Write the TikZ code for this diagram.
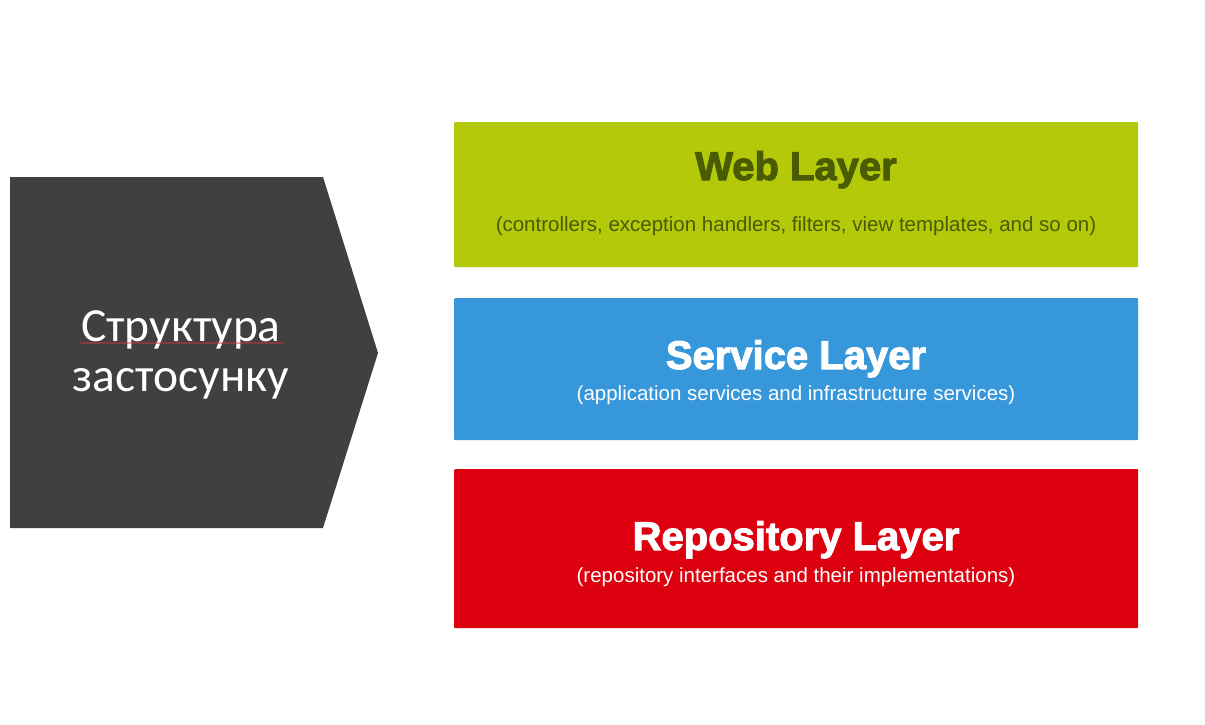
\documentclass[tikz,border=0pt]{standalone}
\usepackage{fontspec}
\setmainfont{Liberation Sans}
\newfontfamily\heavy{Liberation Sans}[BoldFeatures={FakeBold=2.6}]
\newfontfamily\slidefont{Carlito}
\usetikzlibrary{decorations.pathmorphing}

\definecolor{chevrongray}{HTML}{404040}
\definecolor{weblime}{HTML}{B3C90A}
\definecolor{webtext}{HTML}{4A5C02}
\definecolor{serviceblue}{HTML}{3797DB}
\definecolor{repored}{HTML}{DD000E}
\definecolor{spellred}{HTML}{D8343C}

\tikzset{
  layerbox/.style={draw=none, rounded corners=1pt, minimum width=684pt,
    inner sep=0pt, anchor=north west},
  layertitle/.style={anchor=base, inner sep=0pt,
    font=\heavy\bfseries\fontsize{40}{44}\selectfont},
  layersub/.style={anchor=base, inner sep=0pt,
    font=\fontsize{20.5}{24}\selectfont},
  chevrontext/.style={align=center, text=white, inner sep=0pt,
    font=\slidefont\fontsize{47.5}{50}\selectfont},
}

\begin{document}
\begin{tikzpicture}[x=1pt, y=-1pt]
  \useasboundingbox (0,0) rectangle (1205,724);
  \fill[white] (0,0) rectangle (1205,724);

  % left chevron
  \coordinate (cnw) at (10,177);
  \coordinate (cne) at (323,177);
  \coordinate (ctip) at (378,353);
  \coordinate (cse) at (323,528);
  \coordinate (csw) at (10,528);
  \fill[chevrongray] (cnw) -- (cne) -- (ctip) -- (cse) -- (csw) -- cycle;
  \node[chevrontext] (title) at (181,355) {Структура\\застосунку};
  \coordinate (squigA) at (80,343);
  \coordinate (squigB) at (283,343);
  \draw[spellred, line width=0.6pt,
        decorate, decoration={snake, amplitude=0.4pt, segment length=2pt}]
        (squigA) -- (squigB);

  % layer boxes
  \node[layerbox, fill=weblime, minimum height=145pt] (web) at (454,122) {};
  \node[layerbox, fill=serviceblue, minimum height=142pt] (service) at (454,298) {};
  \node[layerbox, fill=repored, minimum height=159pt] (repo) at (454,469) {};

  \node[layertitle, text=webtext] (webtitle) at (796,180) {Web Layer};
  \node[layersub, text=webtext] (websub) at (796,231)
    {(controllers, exception handlers, filters, view templates, and so on)};

  \node[layertitle, text=white] (servicetitle) at (796,369) {Service Layer};
  \node[layersub, text=white] (servicesub) at (796,400)
    {(application services and infrastructure services)};

  \node[layertitle, text=white] (repotitle) at (796,550) {Repository Layer};
  \node[layersub, text=white] (reposub) at (796,582)
    {(repository interfaces and their implementations)};
\end{tikzpicture}
\end{document}
